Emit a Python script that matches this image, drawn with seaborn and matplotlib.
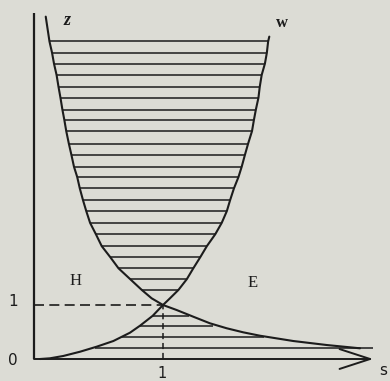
import matplotlib
matplotlib.use("Agg")
import matplotlib.pyplot as plt
import seaborn as sns
import pandas as pd

# ---- data ----
# curve z: falls from the top-left, passes (1,1), tails off to the right
z_s = [0.091, 0.12, 0.14, 0.155, 0.175, 0.19, 0.205, 0.22, 0.235, 0.25, 0.27, 0.29,
       0.31, 0.335, 0.355, 0.38, 0.405, 0.435, 0.48, 0.525, 0.59, 0.655, 0.745,
       0.835, 0.912, 1.0, 1.106, 1.235, 1.364, 1.494, 1.622, 1.752, 2.01, 2.269, 2.527]
z_y = [6.34, 5.88, 5.67, 5.47, 5.26, 5.04, 4.84, 4.62, 4.43, 4.22, 3.99, 3.78,
       3.56, 3.37, 3.16, 2.94, 2.74, 2.52, 2.31, 2.09, 1.89, 1.68, 1.48,
       1.28, 1.124, 1.0, 0.907, 0.783, 0.661, 0.569, 0.494, 0.431, 0.333, 0.259, 0.198]

# curve w: rises from the origin, passes (1,1), climbs to the top-right
w_s = [0.047, 0.124, 0.227, 0.357, 0.486, 0.615, 0.744, 0.822, 0.874, 0.92, 1.0,
       1.054, 1.12, 1.185, 1.235, 1.29, 1.34, 1.405, 1.455, 1.495, 1.52, 1.55,
       1.585, 1.61, 1.635, 1.66, 1.69, 1.705, 1.72, 1.74, 1.75, 1.765, 1.79,
       1.805, 1.815, 1.824]
w_y = [0.0, 0.013, 0.056, 0.135, 0.228, 0.333, 0.487, 0.617, 0.714, 0.80, 1.0,
       1.124, 1.28, 1.48, 1.68, 1.89, 2.09, 2.31, 2.52, 2.74, 2.94, 3.16,
       3.37, 3.56, 3.78, 3.99, 4.22, 4.43, 4.62, 4.84, 5.04, 5.26, 5.47,
       5.67, 5.88, 5.97]

# hatching lines (upper region between the two curves)
upper_hatch_y = [5.88, 5.67, 5.47, 5.26, 5.04, 4.84, 4.62, 4.43, 4.22, 3.99, 3.78, 3.56,
                 3.37, 3.16, 2.94, 2.74, 2.52, 2.31, 2.09, 1.89, 1.68, 1.48, 1.28]
upper_hatch_left = [0.12, 0.14, 0.155, 0.175, 0.19, 0.205, 0.22, 0.235, 0.25, 0.27, 0.29, 0.31,
                    0.335, 0.355, 0.38, 0.405, 0.435, 0.48, 0.525, 0.59, 0.655, 0.745, 0.835]
upper_hatch_right = [1.815, 1.805, 1.79, 1.765, 1.75, 1.74, 1.72, 1.705, 1.69, 1.66, 1.635, 1.61,
                     1.585, 1.55, 1.52, 1.495, 1.455, 1.405, 1.34, 1.29, 1.235, 1.185, 1.12]
# hatching lines (lower region)
lower_hatch_y = [0.80, 0.617, 0.413, 0.20]
lower_hatch_left = [0.92, 0.822, 0.68, 0.47]
lower_hatch_right = [1.20, 1.39, 1.78, 2.63]

cross_s, cross_y = 1.0, 1.0
axis_end_s = 2.63
axis_top_y = 6.41

INK = "#1c1c1c"
PAPER = "#dcdcd5"

sns.set_theme(style="white")
plt.rcParams["font.family"] = ["DejaVu Sans"]

fig = plt.figure(figsize=(3.9, 3.81), dpi=100, facecolor=PAPER)
ax = fig.add_axes([0, 0, 1, 1])
ax.set_facecolor(PAPER)
ax.set_xlim(-34 / 129, (390 - 34) / 129)
ax.set_ylim(-(381 - 359) / 54, 359 / 54)
ax.axis("off")

# curves
dz = pd.DataFrame({"s": z_s, "y": z_y})
dw = pd.DataFrame({"s": w_s, "y": w_y})
sns.lineplot(data=dz, x="s", y="y", sort=False, estimator=None, color=INK, lw=1.5, ax=ax)
sns.lineplot(data=dw, x="s", y="y", sort=False, estimator=None, color=INK, lw=1.5, ax=ax)

# hatching
ax.hlines(upper_hatch_y, upper_hatch_left, upper_hatch_right, color=INK, lw=1.1)
ax.hlines(lower_hatch_y, lower_hatch_left, lower_hatch_right, color=INK, lw=1.1)

# dashed guides to the crossing point
ax.plot([0, cross_s], [cross_y, cross_y], color=INK, lw=1.2, dashes=(6.0, 3.2))
ax.plot([cross_s, cross_s], [0, cross_y], color=INK, lw=1.1, dashes=(4.0, 2.5))

# axes
ax.plot([0, 0], [0, axis_top_y], color=INK, lw=1.6, solid_capstyle="butt")
ax.annotate("", xy=(axis_end_s, 0), xytext=(0, 0),
            arrowprops=dict(arrowstyle="->,head_length=0.4,head_width=0.13",
                            mutation_scale=55, color=INK, lw=1.4,
                            shrinkA=0, shrinkB=0))

# labels
ax.text(0.256, 6.26, "z", fontsize=13, family="Liberation Serif", style="italic",
        fontweight="bold", color=INK, ha="center", va="center")
ax.text(1.922, 6.22, "w", fontsize=12, family="Liberation Serif",
        fontweight="bold", color=INK, ha="center", va="center")
ax.text(0.318, 1.44, "H", fontsize=12, family="Liberation Serif", color=INK,
        ha="center", va="center")
ax.text(1.698, 1.41, "E", fontsize=12, family="Liberation Serif", color=INK,
        ha="center", va="center")
ax.text(-0.163, 1.07, "1", fontsize=11, color=INK, ha="center", va="center")
ax.text(-0.163, -0.02, "0", fontsize=11, color=INK, ha="center", va="center")
ax.text(0.992, -0.265, "1", fontsize=10.5, color=INK, ha="center", va="center")
ax.text(2.705, -0.204, "s", fontsize=11, color=INK, ha="center", va="center")

fig.savefig("out.png", dpi=100, facecolor=PAPER)
